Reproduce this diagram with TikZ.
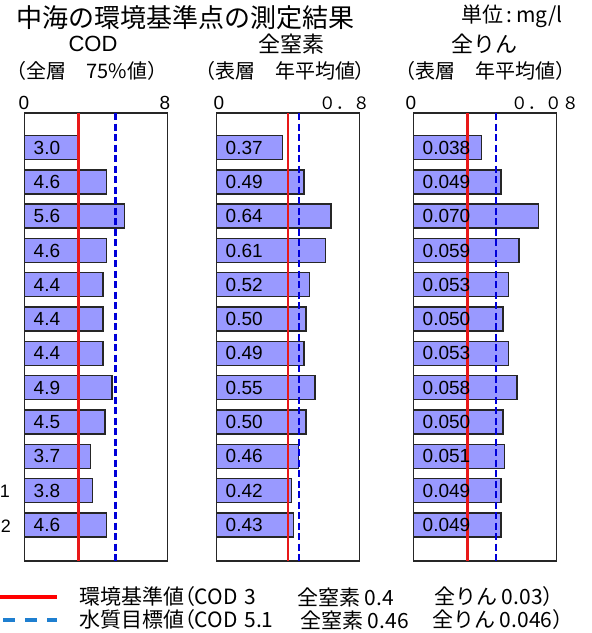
\documentclass[tikz,border=0pt]{standalone}
\usepackage{fontspec}
\setmainfont{Liberation Sans}
\newfontfamily\jp{Noto Sans CJK JP}
\newfontfamily\jpp[RawFeature=+palt]{Noto Sans CJK JP}
\newcommand\myfs[1]{\fontsize{#1}{#1}\selectfont}
\definecolor{barfill}{HTML}{9999FF}
\definecolor{stdred}{HTML}{E81818}
\definecolor{tgtblue}{HTML}{0000D8}
\definecolor{legblue}{HTML}{1F7FD0}
\begin{document}
\begin{tikzpicture}[x=1pt,y=-1pt,
  frame/.style={draw=black!85, line width=1.3pt, fill=white},
  bar/.style={draw=black!85, line width=1.4pt, fill=barfill},
  stdline/.style={draw=stdred, line width=2.8pt},
  tgtline/.style={draw=tgtblue, line width=2.4pt, dash pattern=on 7pt off 3.5pt},
  val/.style={font=\myfs{19}, inner sep=0pt, anchor=west},
  txt/.style={inner sep=0pt},
  legtxt/.style={font=\jp\myfs{21}, inner sep=0pt, anchor=west}]
\useasboundingbox (0,0) rectangle (592,633);

% titles
\node[txt, font=\jp\myfs{26}, anchor=west] (title) at (16,18) {中海の環境基準点の測定結果};
\node[txt, font=\jp\myfs{21}, anchor=west] (unit) at (461,16) {単位\,:\,mg/l};
\node[txt, font=\myfs{22}] (h1) at (93,44) {COD};
\node[txt, font=\jp\myfs{22}] (h2) at (291,44) {全窒素};
\node[txt, font=\jp\myfs{22}] (h3) at (484,44) {全りん};
\node[txt, font=\jp\myfs{20}] (s1) at (87,71) {（全層　75\%値）};
\node[txt, font=\jp\myfs{20}] (s2) at (285,71) {（表層　年平均値）};
\node[txt, font=\jp\myfs{20}] (s3) at (485,71) {（表層　年平均値）};

% axis labels
\node[txt, font=\myfs{19}] (a1l) at (24,103) {0};
\node[txt, font=\myfs{19}] (a1r) at (165,103) {8};
\node[txt, font=\myfs{19}] (a2l) at (219,103) {0};
\node[txt, font=\jp\myfs{17}, anchor=east] (a2r) at (370,103) {０．８};
\node[txt, font=\myfs{19}] (a3l) at (411,103) {0};
\node[txt, font=\jp\myfs{17}, anchor=east] (a3r) at (579,103) {０．０８};

% side labels
\node[txt, font=\myfs{18}] (k1) at (5,491) {1};
\node[txt, font=\myfs{18}] (k2) at (6,526) {2};

% plots
\foreach \p/\L/\s/\r/\b/\vals in {
  1/24.5/17.875/3/5.1/{3.0,4.6,5.6,4.6,4.4,4.4,4.4,4.9,4.5,3.7,3.8,4.6},
  2/216.5/178.75/0.4/0.46/{0.37,0.49,0.64,0.61,0.52,0.50,0.49,0.55,0.50,0.46,0.42,0.43},
  3/413.5/1787.5/0.03/0.046/{0.038,0.049,0.070,0.059,0.053,0.050,0.053,0.058,0.050,0.051,0.049,0.049}}{
  \draw[frame] (\L,113) rectangle ({\L+143},561);
  \foreach \v [count=\i from 0] in \vals {
    \draw[bar] (\L,{147.5+34.32*\i-12}) rectangle ({\L+\v*\s},{147.5+34.32*\i+12});
  }
  \coordinate (rt\p) at ({\L+\r*\s},113);
  \coordinate (rb\p) at ({\L+\r*\s},561);
  \coordinate (bt\p) at ({\L+\b*\s},113);
  \coordinate (bb\p) at ({\L+\b*\s},561);
  \draw[stdline] (rt\p) -- (rb\p);
  \draw[tgtline] (bt\p) -- (bb\p);
  \foreach \v [count=\i from 0] in \vals {
    \node[val] (v-\p-\i) at ({\L+9},{147.5+34.32*\i}) {\v};
  }
}

% legend
\coordinate (lr0) at (0,597);
\coordinate (lr1) at (57,597);
\coordinate (lb0) at (3,620);
\coordinate (lb1) at (57,620);
\draw[draw=red, line width=4pt] (lr0) -- (lr1);
\draw[draw=legblue, line width=4pt, dash pattern=on 12pt off 10pt] (lb0) -- (lb1);
\node[legtxt] (l1a) at (79,597) {環境基準値{\jpp（}COD\,\,3};
\node[legtxt] (l1b) at (297,597) {全窒素 0.4};
\node[legtxt] (l1c) at (434,597) {全りん 0.03）};
\node[legtxt] (l2a) at (79,620) {水質目標値{\jpp（}COD\,\,5.1};
\node[legtxt] (l2b) at (300,620) {全窒素 0.46};
\node[legtxt] (l2c) at (432,620) {全りん 0.046）};
\end{tikzpicture}
\end{document}
